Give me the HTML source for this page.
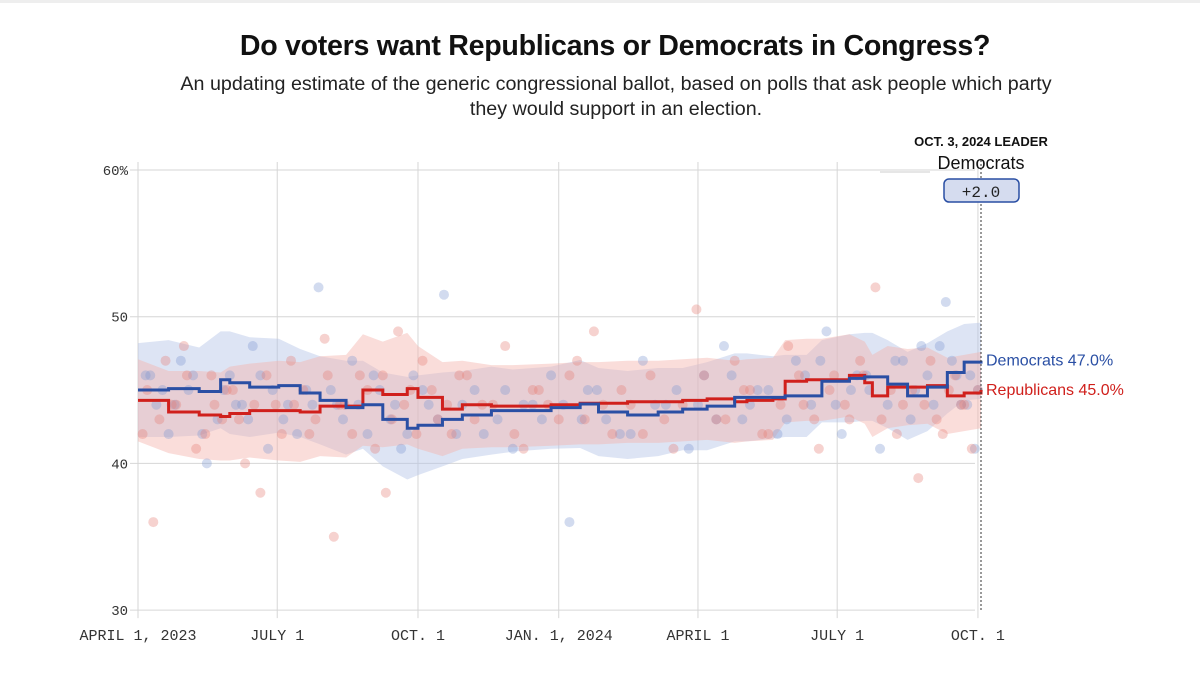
<!DOCTYPE html>
<html><head><meta charset="utf-8">
<style>
body{margin:0;background:#fff;width:1200px;height:676px;overflow:hidden;font-family:"Liberation Sans",sans-serif}
#frame{position:absolute;left:0;top:0;width:1200px;height:676px;background:#fff;border-top:3px solid #eee;box-sizing:border-box}
h1{position:absolute;top:30px;left:0;width:1230px;text-align:center;margin:0;font-size:28.6px;font-weight:bold;color:#111;letter-spacing:-0.3px}
.sub{position:absolute;top:72px;left:0;width:1232px;text-align:center;font-size:19.7px;line-height:25px;color:#222}
svg{position:absolute;left:0;top:0}
</style></head><body>
<div id="frame"></div>
<h1>Do voters want Republicans or Democrats in Congress?</h1>
<div class="sub">An updating estimate of the generic congressional ballot, based on polls that ask people which party<br>they would support in an election.</div>
<svg id="chart" width="1200" height="676"></svg>
<script>
const yTicks=[30,40,50,60];
const yTickLabels=["30","40","50","60%"];
const xTickDays=[0,91,183,275,366,457,549];
const xTickLabels=["APRIL 1, 2023","JULY 1","OCT. 1","JAN. 1, 2024","APRIL 1","JULY 1","OCT. 1"];
const lineDays=[0,20,40,54,60,73,92,106,119,136,147,160,176,183,199,212,231,245,270,289,301,320,340,356,372,390,398,415,423,437,447,465,475,480,490,503,516,529,540,551];
const demValues=[45.0,45.1,44.9,45.7,45.5,45.2,45.3,44.8,44.3,43.8,44.0,43.0,42.4,42.6,43.0,43.3,43.6,43.6,43.8,44.05,43.5,43.3,43.5,43.7,43.9,44.5,44.5,44.5,44.6,44.6,45.6,45.8,45.9,45.9,45.4,44.6,45.2,46.2,46.9,47.0];
const repValues=[44.3,43.5,43.3,43.2,43.4,43.6,43.6,43.5,43.9,43.9,45.0,44.7,45.1,44.5,43.7,44.0,43.9,43.9,44.0,44.1,44.1,44.2,44.2,44.3,44.4,44.2,44.3,44.4,45.6,45.7,45.7,46.0,45.5,44.6,45.2,45.2,45.3,44.6,44.8,45.0];
const demBand=[3.2,3.3,3.0,3.3,3.5,3.4,3.2,3.0,3.0,3.2,3.0,3.2,3.5,3.4,3.2,3.0,3.0,2.8,2.8,3.0,3.0,3.0,3.0,2.8,3.0,3.0,3.0,2.8,2.8,2.8,2.8,3.0,3.0,3.0,3.0,3.0,3.0,2.8,2.6,2.6];
const repBand=[2.8,2.8,3.0,3.0,3.2,3.2,3.4,3.4,3.4,3.5,3.8,3.6,3.8,3.5,3.2,3.0,2.8,2.8,2.8,2.8,2.8,2.8,2.8,2.8,2.8,2.8,2.8,2.8,2.8,2.8,2.8,2.8,2.8,2.8,2.8,2.6,2.6,2.6,2.6,2.6];
const demPollDays=[5,12,20,28,33,45,52,60,68,75,85,95,110,118,130,140,150,158,165,172,180,190,200,208,220,235,245,258,270,282,290,300,315,330,345,360,370,383,395,405,418,430,440,450,460,470,478,485,495,505,512,520,528,535,542,547,8,16,24,36,42,56,64,72,80,88,98,104,114,126,134,144,154,168,176,186,196,212,226,240,252,264,278,294,306,322,338,352,366,378,388,400,412,424,436,446,456,466,476,490,500,508,516,524,532,538,544,549];
const demPollValues=[46,44,42,47,45,40,43,46,44,48,41,43,45,52,44,47,42,45,43,41,46,44,51.5,42,45,43,41,44,46,36,43,45,42,47,44,41,46,48,43,45,42,47,44,49,42,46,45,41,47,43,48,44,51,46,44,41,46,45,44,46,42,45,44,43,46,45,44,42,44,45,43,44,46,44,42,45,43,44,42,45,44,43,44,45,43,42,44,45,44,43,46,44,45,43,46,47,44,45,46,44,47,45,46,48,47,44,46,45];
const repPollDays=[3,10,18,25,30,38,48,55,62,70,80,90,100,112,122,128,135,145,155,162,170,178,186,196,205,215,225,240,252,262,275,287,298,310,322,335,350,365,378,390,400,412,425,435,445,455,465,472,482,492,500,510,518,526,534,540,545,549,6,14,22,32,44,50,58,66,76,84,94,102,108,116,124,132,140,150,160,166,174,182,192,202,210,220,232,246,258,268,282,292,304,316,330,344,356,370,384,396,408,420,432,442,452,462,474,486,496,506,514,522,530,538];
const repPollValues=[42,36,47,44,48,41,46,43,45,40,38,44,47,42,48.5,35,44,46,41,38,49,45,47,43,42,46,44,48,41,45,43,47,49,42,44,46,41,50.5,43,47,45,42,48,44,41,46,43,47,52,45,44,39,47,42,46,44,41,45,45,43,44,46,42,44,45,43,44,46,42,44,45,43,46,44,42,45,46,43,44,42,45,44,46,43,44,42,45,44,46,43,44,45,42,43,44,46,43,45,42,44,46,43,45,44,46,43,42,45,44,43,45,44];

const X0=138,X1=981,DMAX=551,Y60=170,PX=14.67;
const x=d=>X0+d*(X1-X0)/DMAX;
const y=v=>Y60+(60-v)*PX;
const svg=document.getElementById('chart');const NS='http://www.w3.org/2000/svg';
function mk(tag,at,parent){const e=document.createElementNS(NS,tag);for(const k in at)e.setAttribute(k,at[k]);(parent||svg).appendChild(e);return e;}

yTicks.forEach((t,i)=>{
 const g=mk('line',{x1:130,x2:975,y1:y(t),y2:y(t),stroke:'#d6d6d6','stroke-width':1});
 
 
 const tx=mk('text',{x:128,y:y(t)+5,'text-anchor':'end','font-family':'Liberation Mono, monospace','font-size':14,fill:'#333'});
 tx.textContent=yTickLabels[i];
 
 
});
xTickDays.forEach((d,i)=>{
 const l=mk('line',{x1:x(d),x2:x(d),y1:y(60)-8,y2:y(30)+8,stroke:'#d6d6d6','stroke-width':1});
 
 
 const tx=mk('text',{x:x(d),y:640,'text-anchor':'middle','font-family':'Liberation Mono, monospace','font-size':15,fill:'#333'});
 tx.textContent=xTickLabels[i];
 
 
});
function band(vals,w,col,op,name){
 let p='';vals.forEach((v,i)=>p+=(i?'L':'M')+x(lineDays[i])+','+y(v+w[i]));
 for(let i=vals.length-1;i>=0;i--)p+='L'+x(lineDays[i])+','+y(vals[i]-w[i]);
 const e=mk('path',{d:p+'Z',fill:col,opacity:op});
 
 
}
band(demValues,demBand,'#b3c3e6',0.45,'democrats-uncertainty-band');
band(repValues,repBand,'#f5b4ac',0.45,'republicans-uncertainty-band');
function dots(ds,vs,col,name){const n=Math.min(ds.length,vs.length);for(let i=0;i<n;i++){
 const c=mk('circle',{cx:x(ds[i]),cy:y(vs[i]),r:5,fill:col,opacity:0.35});
 
 
}}
dots(demPollDays,demPollValues,'#7f97d0','democrats-poll-dot');
dots(repPollDays,repPollValues,'#e57f75','republicans-poll-dot');
function line(vals,col,name){
 let p='';vals.forEach((v,i)=>{p+=(i?'H'+x(lineDays[i])+'V':'M'+x(lineDays[i])+',')+y(v);});
 const e=mk('path',{d:p,fill:'none',stroke:col,'stroke-width':3});
 
 
}
line(repValues,'#d0201c','republicans-line');
line(demValues,'#2a4fa4','democrats-line');
const last=lineDays.length-1;
const dl=mk('text',{x:986,y:y(demValues[last])+5,'font-size':16,fill:'#2a4fa4'});dl.textContent='Democrats '+demValues[last].toFixed(1)+'%';


const rl=mk('text',{x:986,y:y(repValues[last])+5,'font-size':16,fill:'#d0201c'});rl.textContent='Republicans '+repValues[last].toFixed(1)+'%';


const vl=mk('line',{x1:981,x2:981,y1:160,y2:612,stroke:'#333','stroke-width':1,'stroke-dasharray':'2,2'});


const hl=mk('line',{x1:880,x2:930,y1:172,y2:172,stroke:'#ccc','stroke-width':1});


const lh=mk('text',{x:981,y:146,'text-anchor':'middle','font-size':13,'font-weight':'bold',fill:'#111'});lh.textContent='OCT. 3, 2024 LEADER';


const lp=mk('text',{x:981,y:169,'text-anchor':'middle','font-size':18,fill:'#111'});lp.textContent='Democrats';


const bx=mk('rect',{x:944,y:179,width:75,height:23,rx:5,fill:'#d5dcef',stroke:'#2a4fa4','stroke-width':1.5});


const bt=mk('text',{x:981,y:197,'text-anchor':'middle','font-family':'Liberation Mono, monospace','font-size':16,fill:'#222'});bt.textContent='+'+(demValues[last]-repValues[last]).toFixed(1);


</script>
</body></html>
